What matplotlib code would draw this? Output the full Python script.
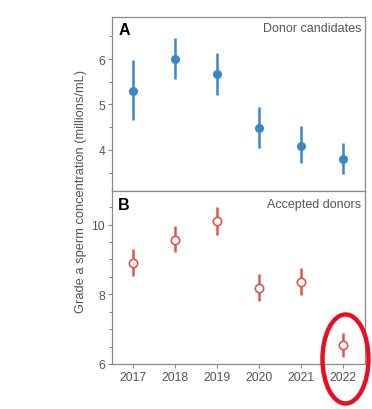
import matplotlib.pyplot as plt
from matplotlib.patches import Ellipse
from matplotlib.ticker import MultipleLocator

# Data
years = [2017, 2018, 2019, 2020, 2021, 2022]

cand_mean = [5.30, 6.00, 5.66, 4.49, 4.09, 3.80]
cand_low = [4.66, 5.55, 5.20, 4.04, 3.70, 3.46]
cand_high = [5.97, 6.46, 6.13, 4.95, 4.52, 4.15]

acc_mean = [8.91, 9.57, 10.10, 8.19, 8.36, 6.55]
acc_low = [8.51, 9.20, 9.71, 7.80, 7.98, 6.21]
acc_high = [9.30, 9.97, 10.50, 8.58, 8.75, 6.89]

plt.rcParams['font.family'] = ['Liberation Sans', 'DejaVu Sans']

blue = '#3a88c2'
red = '#e2564a'
grey = '#555555'
spine = '#8a8a8a'

fig = plt.figure(figsize=(3.72, 4.10), dpi=100)
ax1 = fig.add_axes([0.301, 0.5324, 0.680, 0.4230])
ax2 = fig.add_axes([0.301, 0.1098, 0.680, 0.4226], sharex=ax1)


def errs(mean, low, high):
    return [[m - l for m, l in zip(mean, low)], [h - m for m, h in zip(mean, high)]]


ax1.errorbar(years, cand_mean, yerr=errs(cand_mean, cand_low, cand_high),
             fmt='o', color=blue, ms=5.5, elinewidth=1.8, capsize=0)
ax2.errorbar(years, acc_mean, yerr=errs(acc_mean, acc_low, acc_high),
             fmt='o', color=red, mfc='white', mec=red, mew=1.2, ms=6,
             elinewidth=1.8, capsize=0)

ax1.set_xlim(2016.5, 2022.52)
ax1.set_ylim(3.10, 6.92)
ax2.set_ylim(6.0, 10.97)

ax1.yaxis.set_major_locator(MultipleLocator(1))
ax1.yaxis.set_minor_locator(MultipleLocator(0.5))
ax2.yaxis.set_major_locator(MultipleLocator(2))
ax2.yaxis.set_minor_locator(MultipleLocator(0.5))
ax2.set_xticks(years)

for ax in (ax1, ax2):
    for s in ax.spines.values():
        s.set_color(spine)
        s.set_linewidth(0.9)
    ax.tick_params(axis='both', which='major', length=3, width=0.8, color=spine,
                   labelsize=8.7, labelcolor=grey, pad=2)
    ax.tick_params(axis='both', which='minor', length=2, width=0.7, color=spine)
ax1.tick_params(axis='x', which='both', bottom=False, labelbottom=False)
ax2.tick_params(axis='x', which='minor', bottom=False)

ax1.text(0.025, 0.975, 'A', transform=ax1.transAxes, fontsize=11.5,
         fontweight='bold', va='top', ha='left')
ax2.text(0.025, 0.965, 'B', transform=ax2.transAxes, fontsize=11.5,
         fontweight='bold', va='top', ha='left')
ax1.text(0.985, 0.97, 'Donor candidates', transform=ax1.transAxes,
         fontsize=9, color=grey, va='top', ha='right')
ax2.text(0.985, 0.96, 'Accepted donors', transform=ax2.transAxes,
         fontsize=9, color=grey, va='top', ha='right')

fig.text(0.217, 0.5324, 'Grade a sperm concentration (millions/mL)',
         rotation=90, ha='center', va='center', fontsize=9.3, color=grey)

# red highlight around 2022
fig.patches.append(Ellipse((345.5 / 372, 1 - 360 / 410), 46 / 372, 89 / 410,
                           transform=fig.transFigure, fill=False,
                           edgecolor='#e8101e', linewidth=3.2, zorder=10))

fig.savefig('out.png', dpi=100)
